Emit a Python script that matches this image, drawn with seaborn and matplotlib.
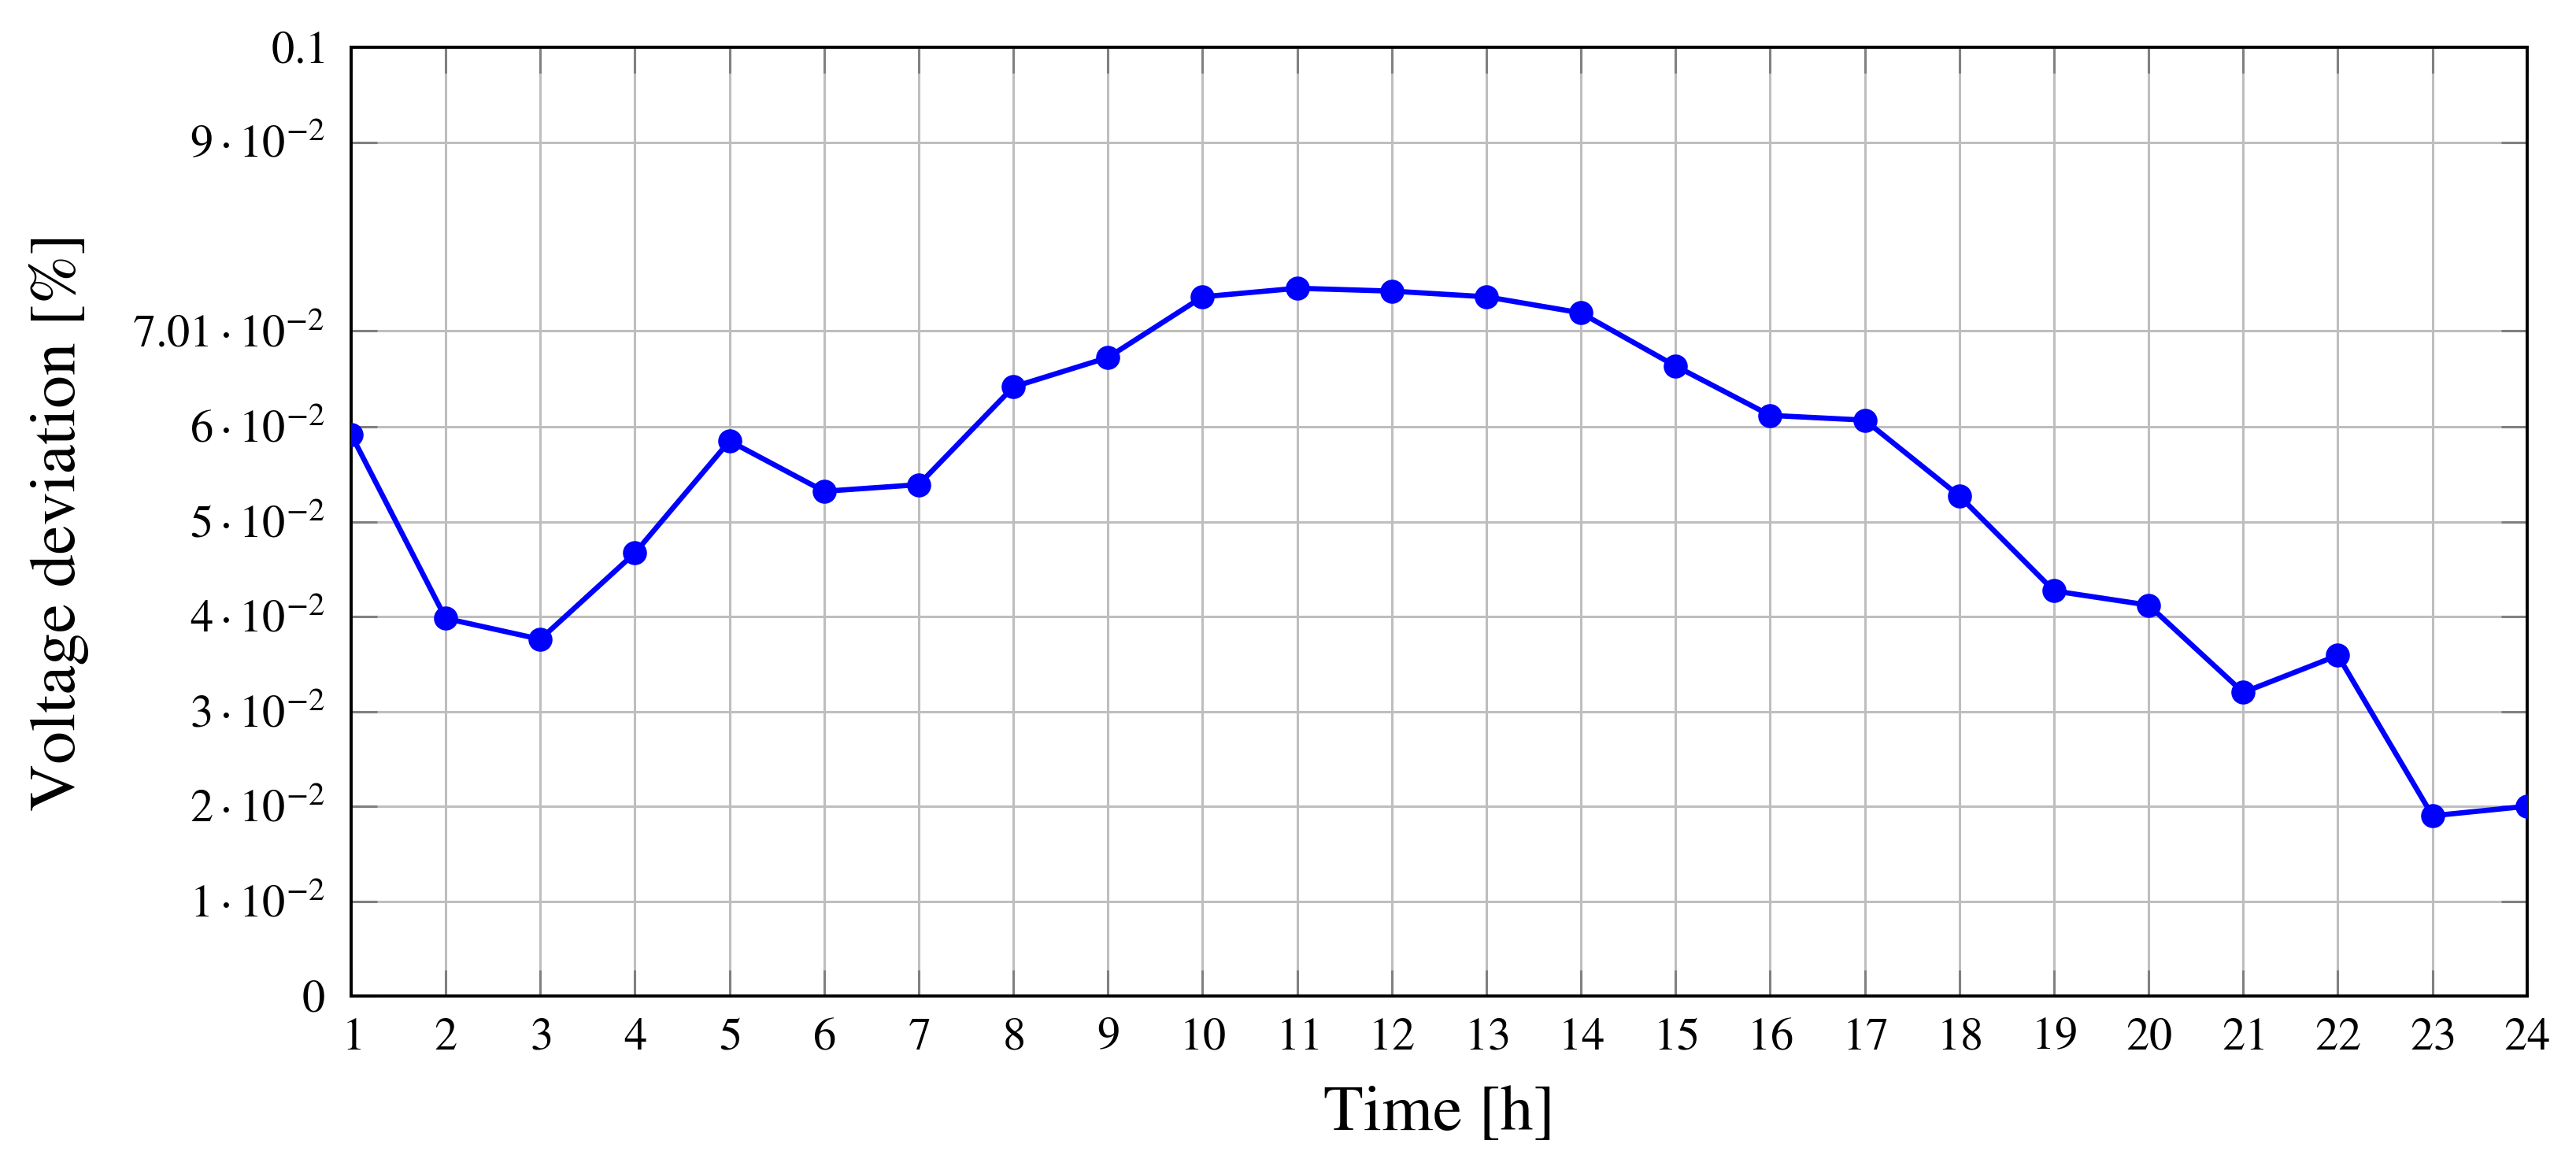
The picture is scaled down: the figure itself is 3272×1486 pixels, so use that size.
import numpy as np
import pandas as pd
import seaborn as sns
import matplotlib.pyplot as plt

# hourly voltage deviation
hours = list(range(1, 25))
deviation = [0.0592, 0.0398, 0.0376, 0.0467, 0.0585, 0.0532, 0.0539, 0.0642,
             0.0673, 0.0737, 0.0746, 0.0743, 0.0737, 0.0720, 0.0664, 0.0612,
             0.0607, 0.0527, 0.0427, 0.0412, 0.0320, 0.0359, 0.0190, 0.0200]

y_ticks = [0, 0.01, 0.02, 0.03, 0.04, 0.05, 0.06, 0.0701, 0.09, 0.1]
y_labels = ["$0$", r"$1\cdot10^{-2}$", r"$2\cdot10^{-2}$", r"$3\cdot10^{-2}$",
            r"$4\cdot10^{-2}$", r"$5\cdot10^{-2}$", r"$6\cdot10^{-2}$",
            r"$7.01\cdot10^{-2}$", r"$9\cdot10^{-2}$", "$0.1$"]

df = pd.DataFrame({"hour": hours, "deviation": deviation})

sns.set_style("white")
plt.rcParams["font.family"] = ["STIXGeneral", "DejaVu Serif"]
plt.rcParams["mathtext.fontset"] = "stix"
plt.rcParams["text.color"] = "black"
plt.rcParams["axes.labelcolor"] = "black"

fig = plt.figure(figsize=(16.36, 7.43), dpi=200)
ax = fig.add_axes([0.1363, 0.1487, 0.8447, 0.8109])

sns.lineplot(data=df, x="hour", y="deviation", color="#0000ff",
             linewidth=2.4, marker="o", markersize=11, markeredgewidth=0,
             ax=ax, zorder=3)

ax.set_xlim(1, 24)
ax.set_ylim(0, 0.1)
ax.set_xticks(hours)
ax.set_xticklabels([f"${h}$" for h in hours])
ax.set_yticks(y_ticks)
ax.set_yticklabels(y_labels)

ax.grid(True, color="#bebebe", linewidth=1.1)
ax.set_axisbelow(True)
ax.tick_params(axis="both", which="major", direction="in", length=12,
               width=1.1, color="#808080", labelcolor="black", labelsize=21,
               pad=10, top=True, right=True, bottom=True, left=True)
ax.tick_params(axis="y", pad=12)
for sp in ax.spines.values():
    sp.set_color("black")
    sp.set_linewidth(1.4)
    sp.set_visible(True)

ax.set_xlabel("Time [h]", fontsize=30, labelpad=12, color="black")
ax.set_ylabel("Voltage deviation [%]", fontsize=30, labelpad=20, color="black")

fig.savefig("out.png", dpi=200)
